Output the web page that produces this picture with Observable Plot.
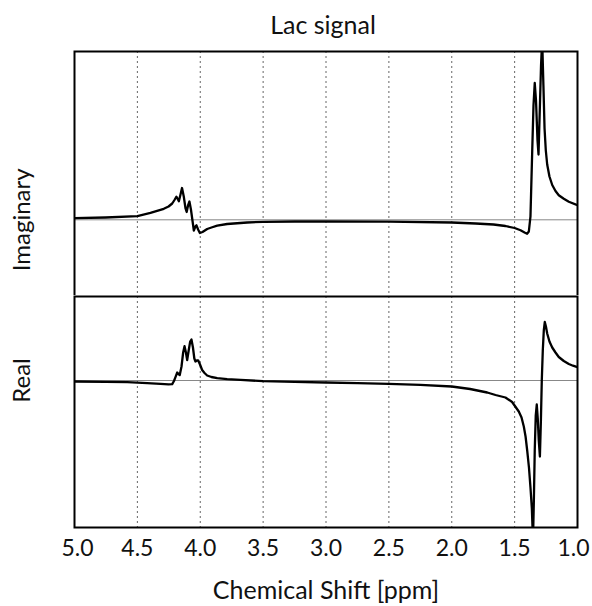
<!DOCTYPE html>
<html>
<head>
<meta charset="utf-8">
<script src="https://cdn.jsdelivr.net/npm/d3@7"></script>
<script src="https://cdn.jsdelivr.net/npm/@observablehq/plot@0.6"></script>
<style>
  html, body { margin: 0; padding: 0; background: #fff; }
  body { width: 592px; height: 606px; position: relative; overflow: hidden; font-family: Lato, "Open Sans", sans-serif; color: #111; }
  #title { position: absolute; left: 68px; width: 510px; top: 9px; text-align: center; font-size: 25px; line-height: 30px; }
  #top { position: absolute; left: 0; top: 50px; }
  #bottom { position: absolute; left: 0; top: 295px; }
  svg { display: block; }
</style>
</head>
<body>
<div id="title">Lac signal</div>
<div id="top"></div>
<div id="bottom"></div>
<script>
// Chemical shift ticks (ppm)
const ppmTicks = [5.0, 4.5, 4.0, 3.5, 3.0, 2.5, 2.0, 1.5, 1.0];
const gridTicks = [4.5, 4.0, 3.5, 3.0, 2.5, 2.0, 1.5];

// Imaginary part (arbitrary units)
const ppmImag = [5.0, 4.753, 4.5, 4.396, 4.29, 4.252, 4.223, 4.205, 4.19, 4.181, 4.17, 4.157, 4.145, 4.131, 4.117, 4.108, 4.097, 4.086, 4.074, 4.063, 4.051, 4.039, 4.03, 4.017, 4.003, 3.982, 3.945, 3.911, 3.865, 3.786, 3.627, 3.5, 3.25, 3.0, 2.5, 2.0, 1.81, 1.668, 1.573, 1.5, 1.453, 1.421, 1.401, 1.387, 1.374, 1.36, 1.35, 1.34, 1.33, 1.318, 1.31, 1.3, 1.29, 1.281, 1.271, 1.262, 1.252, 1.241, 1.223, 1.201, 1.175, 1.149, 1.109, 1.069, 1.0];
const valImag = [0.016, 0.023, 0.036, 0.07, 0.11, 0.133, 0.163, 0.198, 0.231, 0.213, 0.185, 0.253, 0.318, 0.233, 0.113, 0.078, 0.143, 0.183, 0.103, 0.003, -0.107, -0.067, -0.055, -0.097, -0.132, -0.122, -0.092, -0.077, -0.059, -0.042, -0.027, -0.02, -0.017, -0.017, -0.019, -0.027, -0.037, -0.047, -0.062, -0.082, -0.105, -0.127, -0.14, -0.117, 0.033, 0.693, 1.143, 1.368, 1.193, 0.793, 0.653, 1.093, 1.543, 1.80, 1.343, 0.913, 0.693, 0.553, 0.433, 0.348, 0.288, 0.246, 0.21, 0.18, 0.145];

// Real part (arbitrary units)
const ppmReal = [5.0, 4.753, 4.58, 4.422, 4.316, 4.252, 4.223, 4.209, 4.197, 4.183, 4.173, 4.163, 4.149, 4.136, 4.125, 4.114, 4.104, 4.092, 4.08, 4.07, 4.058, 4.047, 4.038, 4.027, 4.017, 4.002, 3.985, 3.966, 3.945, 3.911, 3.865, 3.786, 3.68, 3.5, 3.25, 3.0, 2.75, 2.5, 2.25, 2.0, 1.854, 1.718, 1.652, 1.573, 1.52, 1.467, 1.445, 1.427, 1.413, 1.4, 1.386, 1.374, 1.363, 1.354, 1.347, 1.34, 1.332, 1.324, 1.316, 1.308, 1.299, 1.291, 1.284, 1.276, 1.268, 1.26, 1.251, 1.241, 1.223, 1.201, 1.175, 1.149, 1.109, 1.069, 1.036, 1.0];
const valReal = [-0.01, -0.013, -0.017, -0.027, -0.033, -0.038, -0.036, -0.005, 0.033, 0.08, 0.065, 0.055, 0.14, 0.28, 0.343, 0.28, 0.205, 0.30, 0.39, 0.41, 0.33, 0.22, 0.19, 0.20, 0.202, 0.16, 0.105, 0.075, 0.05, 0.035, 0.023, 0.013, 0.007, -0.007, -0.013, -0.02, -0.026, -0.033, -0.043, -0.06, -0.085, -0.12, -0.145, -0.17, -0.215, -0.31, -0.37, -0.46, -0.56, -0.70, -0.87, -1.07, -1.28, -1.60, -1.20, -0.70, -0.35, -0.24, -0.38, -0.60, -0.76, -0.40, 0.0, 0.30, 0.50, 0.585, 0.54, 0.47, 0.39, 0.33, 0.28, 0.235, 0.195, 0.165, 0.148, 0.133];

const imag = ppmImag.map((p, i) => ({ppm: p, v: valImag[i]}));
const real = ppmReal.map((p, i) => ({ppm: p, v: valReal[i]}));

const FONT = 'Lato, "Open Sans", sans-serif';
const xScale = {domain: [5, 1]};
const fmt = d3.format(".1f");

const topPlot = Plot.plot({
  width: 592, height: 246,
  marginLeft: 74, marginRight: 15, marginTop: 1, marginBottom: 0,
  style: {fontFamily: FONT, background: "white", overflow: "visible"},
  x: {...xScale, axis: null},
  y: {domain: [-0.767, 1.683], axis: null},
  marks: [
    Plot.gridX(gridTicks, {stroke: "#666", strokeOpacity: 1, strokeWidth: 1, strokeDasharray: "2,3"}),
    Plot.ruleY([0], {stroke: "#888", strokeWidth: 1}),
    Plot.line(imag, {x: "ppm", y: "v", stroke: "#000", strokeWidth: 2.3, clip: true}),
    Plot.frame({stroke: "#000", strokeWidth: 2}),
    Plot.text(["Imaginary"], {frameAnchor: "left", y: 0, dx: -52, rotate: -90, textAnchor: "middle", lineAnchor: "middle", fontSize: 24, fill: "#111"})
  ]
});
document.getElementById("top").appendChild(topPlot);

const midTicks = ppmTicks.slice(1, -1);
const bottomPlot = Plot.plot({
  width: 592, height: 311,
  marginLeft: 74, marginRight: 15, marginTop: 1, marginBottom: 79,
  style: {fontFamily: FONT, background: "white", overflow: "visible"},
  x: {...xScale, axis: null},
  y: {domain: [-1.47, 0.84], axis: null},
  marks: [
    Plot.gridX(gridTicks, {stroke: "#666", strokeOpacity: 1, strokeWidth: 1, strokeDasharray: "2,3"}),
    Plot.ruleY([0], {stroke: "#888", strokeWidth: 1}),
    Plot.line(real, {x: "ppm", y: "v", stroke: "#000", strokeWidth: 2.3, clip: true}),
    Plot.frame({stroke: "#000", strokeWidth: 2}),
    Plot.text(midTicks, {x: d => d, text: fmt, frameAnchor: "bottom", lineAnchor: "middle", dy: 21, fontSize: 23, fill: "#111"}),
    Plot.text([ppmTicks[0]], {x: d => d, text: fmt, frameAnchor: "bottom", lineAnchor: "middle", dy: 21, dx: 3, fontSize: 23, fill: "#111"}),
    Plot.text([ppmTicks[ppmTicks.length - 1]], {x: d => d, text: fmt, frameAnchor: "bottom", lineAnchor: "middle", dy: 21, dx: -4, fontSize: 23, fill: "#111"}),
    Plot.text(["Chemical Shift [ppm]"], {frameAnchor: "bottom", lineAnchor: "middle", dy: 63, fontSize: 25, fill: "#111"}),
    Plot.text(["Real"], {frameAnchor: "left", y: 0, dx: -52, rotate: -90, textAnchor: "middle", lineAnchor: "middle", fontSize: 24, fill: "#111"})
  ]
});
document.getElementById("bottom").appendChild(bottomPlot);
</script>
</body>
</html>
